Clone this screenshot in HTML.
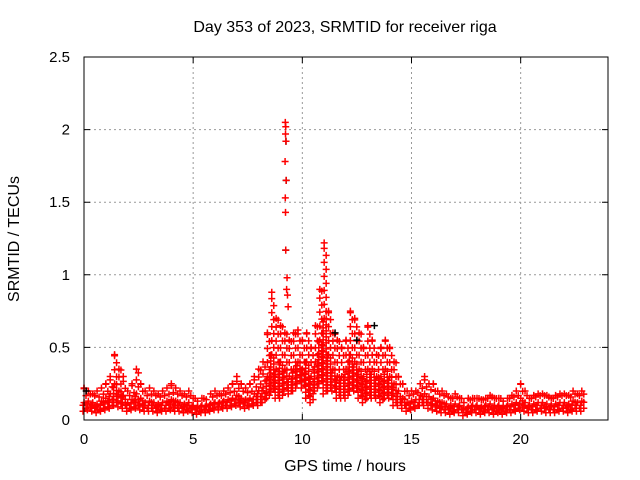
<!DOCTYPE html>
<html><head><meta charset="utf-8"><style>
html,body{margin:0;padding:0;background:#fff;}
svg{display:block;font-family:"Liberation Sans","DejaVu Sans",sans-serif;}
</style></head><body>
<svg id="chart" width="640" height="480" viewBox="0 0 640 480">
<rect x="0" y="0" width="640" height="480" fill="#fff"/>
<text x="345" y="32" text-anchor="middle" font-size="16" fill="#000">Day 353 of 2023, SRMTID for receiver riga</text>
<g id="grid"></g>
<g id="points"></g>
<rect x="84" y="57" width="524" height="363" fill="none" stroke="#000" stroke-width="1"/>
<g id="axes"></g>
<text x="345" y="471" text-anchor="middle" font-size="16">GPS time / hours</text>
<text transform="translate(19,239) rotate(-90)" text-anchor="middle" font-size="16">SRMTID / TECUs</text>
</svg>
<script>
const xTicks=[0,5,10,15,20];
const yTicks=[0,0.5,1,1.5,2,2.5];
const yTickLabels=["0","0.5","1","1.5","2","2.5"];
const step=0.2;
const hiVals=[.22,.2,.18,.2,.22,.25,.3,.45,.35,.3,.2,.25,.35,.25,.2,.22,.2,.18,.2,.22,.25,.22,.2,.18,.2,.15,.13,.15,.14,.18,.2,.18,.2,.22,.25,.3,.25,.22,.25,.3,.35,.4,.6,.88,.7,.65,.6,.55,.6,.62,.55,.6,.5,.65,.9,1.22,.75,.6,.55,.5,.55,.75,.7,.6,.5,.65,.55,.45,.5,.55,.5,.4,.3,.25,.2,.2,.2,.25,.3,.25,.25,.2,.2,.18,.15,.18,.15,.12,.15,.15,.15,.14,.15,.17,.15,.15,.13,.15,.17,.2,.25,.2,.15,.17,.18,.18,.17,.15,.17,.18,.18,.17,.2,.18,.2];
const midVals=[.12,.13,.12,.11,.13,.15,.18,.25,.2,.17,.12,.14,.18,.15,.12,.13,.12,.11,.12,.13,.14,.13,.12,.11,.12,.1,.09,.1,.1,.11,.12,.12,.13,.14,.15,.17,.15,.14,.15,.18,.2,.22,.3,.45,.35,.4,.35,.3,.35,.4,.35,.4,.3,.4,.55,.7,.45,.35,.3,.3,.35,.45,.4,.35,.3,.35,.35,.3,.3,.35,.3,.25,.2,.15,.12,.13,.14,.17,.18,.16,.15,.13,.12,.11,.1,.11,.1,.08,.09,.1,.1,.09,.1,.11,.1,.1,.09,.1,.11,.12,.15,.12,.1,.11,.12,.12,.11,.1,.11,.12,.12,.11,.13,.12,.13];
const loVals=[.06,.07,.06,.05,.06,.07,.08,.1,.09,.08,.06,.07,.08,.07,.06,.06,.06,.05,.06,.06,.07,.06,.06,.05,.06,.05,.04,.05,.05,.06,.07,.07,.08,.08,.09,.1,.09,.08,.09,.1,.1,.12,.15,.2,.15,.15,.2,.18,.2,.25,.22,.15,.12,.2,.25,.18,.2,.2,.15,.15,.15,.2,.2,.15,.12,.15,.15,.15,.12,.15,.15,.1,.1,.08,.06,.07,.08,.1,.1,.08,.07,.06,.05,.05,.04,.05,.05,.03,.04,.05,.05,.04,.05,.05,.04,.05,.04,.05,.05,.06,.07,.06,.05,.05,.06,.06,.05,.05,.05,.06,.06,.05,.06,.06,.06];
const spikeHours=[9.22,9.24,9.23,9.25,9.21,9.26,9.22,9.23,9.24,9.3,9.28,9.35,9.32];
const spikeVals=[2.05,2.02,1.97,1.92,1.78,1.65,1.53,1.43,1.17,0.98,0.9,0.78,0.86];
const blackHours=[9.25,9.26,9.24,0.1,11.5,13.3,12.5];
const blackVals=[1.92,1.65,1.17,0.2,0.6,0.65,0.55];
const NS="http://www.w3.org/2000/svg";
const X=h=>84+h*(524/24);
const Y=v=>420-v*(363/2.5);
const grid=document.getElementById('grid'),axes=document.getElementById('axes'),pts=document.getElementById('points');
function mk(tag,attrs,parent){const e=document.createElementNS(NS,tag);for(const k in attrs)e.setAttribute(k,attrs[k]);parent.appendChild(e);return e;}
xTicks.forEach(t=>{
  if(t>0){const g=mk('line',{x1:X(t),x2:X(t),y1:57,y2:420,stroke:'#999','stroke-dasharray':'2,3'},grid);
  
  }
  const tk=mk('path',{d:`M${X(t)} 420v-6M${X(t)} 57v6`,stroke:'#000'},axes);
  
  
  const l=mk('text',{x:X(t),y:444,'text-anchor':'middle','font-size':'15'},axes);l.textContent=t;
  
  
});
yTicks.forEach((v,i)=>{
  if(v>0&&v<2.5){const g=mk('line',{x1:84,x2:608,y1:Y(v),y2:Y(v),stroke:'#999','stroke-dasharray':'2,3'},grid);
  
  }
  const tk=mk('path',{d:`M84 ${Y(v)}h6M608 ${Y(v)}h-6`,stroke:'#000'},axes);
  
  
  const l=mk('text',{x:70,y:Y(v)+5,'text-anchor':'end','font-size':'15'},axes);l.textContent=yTickLabels[i];
  
  
});
function plus(h,v,color,name,dx){
  const x=X(h)+(dx||0),y=Y(v);
  const p=mk('path',{d:`M${x-3.5} ${y}h7M${x} ${y-3.5}v7`,stroke:color,'stroke-width':'1.5',fill:'none'},pts);
  
  
}
hiVals.forEach((hv,i)=>{
  const h=i*step, lo=loVals[i], md=midVals[i];
  const dense=(md-lo)*363/2.5;
  for(let py=0;py<=dense;py+=3){plus(h,lo+py*2.5/363,'#f00','srmtid-point',(py/3)%2?2:-1);}
  const sparse=(hv-md)*363/2.5;
  for(let py=0;py<=sparse;py+=7){plus(h,md+py*2.5/363,'#f00','srmtid-point',(py/7)%2?2:0);}
  plus(h,hv,'#f00','srmtid-point',0);
});
blackHours.forEach((h,i)=>plus(h,blackVals[i],'#000','srmtid-point-black'));
spikeHours.forEach((h,i)=>plus(h,spikeVals[i],'#f00','srmtid-spike-point'));
</script>
</body></html>
